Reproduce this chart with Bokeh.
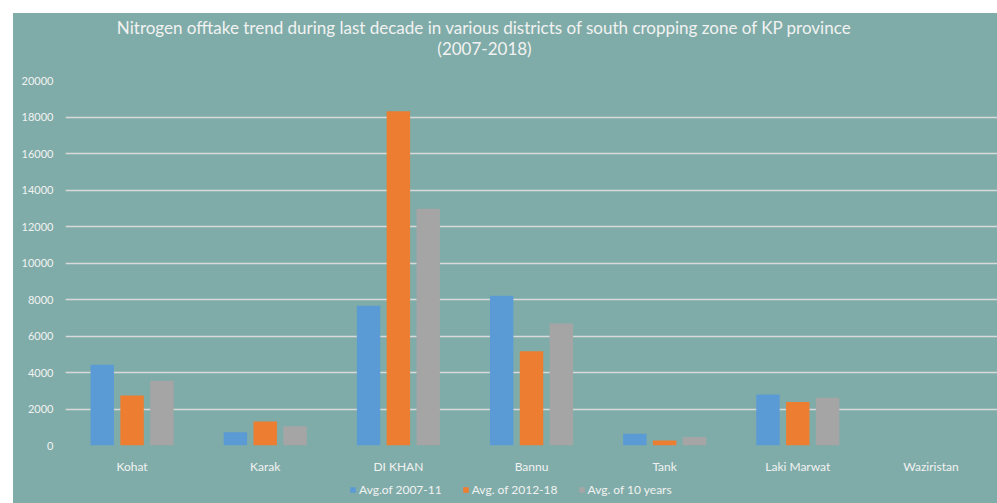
from bokeh.plotting import figure
from bokeh.models import (FactorRange, Range1d, FixedTicker, Legend, LegendItem,
                          Label, Spacer, ColumnDataSource)
from bokeh.transform import dodge
from bokeh.layouts import column, row
from bokeh.embed import file_html
from bokeh.resources import INLINE

districts = ["Kohat", "Karak", "DI KHAN", "Bannu", "Tank", "Laki Marwat", "Waziristan"]
avg_2007_11 = [4420, 725, 7660, 8200, 650, 2790, 0]
avg_2012_18 = [2735, 1320, 18315, 5160, 270, 2390, 0]
avg_10_years = [3550, 1050, 12970, 6680, 470, 2610, 0]
series_names = ["Avg.of 2007-11", "Avg. of 2012-18", "Avg. of 10 years"]
y_ticks = list(range(0, 20001, 2000))
title_lines = ["Nitrogen offtake trend during last decade in various districts of south cropping zone of KP province",
               "(2007-2018)"]

BG = "#7FACA8"
TXT = "#F2F2F2"
FONT = "Lato"
colors = ["#5B9BD5", "#ED7D31", "#A5A5A5"]
W = 984


def strip(h):
    f = figure(width=W, height=h, output_backend="svg", toolbar_location=None,
               x_range=Range1d(0, 1), y_range=Range1d(0, 1),
               x_axis_location=None, y_axis_location=None,
               min_border=0, min_border_left=0, min_border_right=0,
               min_border_top=0, min_border_bottom=0)
    f.xgrid.grid_line_color = None
    f.ygrid.grid_line_color = None
    f.background_fill_color = None
    f.border_fill_color = BG
    f.outline_line_color = None
    return f


# title strip (its frame is aligned with the main chart's frame, which starts 53px in)
pt = strip(59)
for txt, ys in zip(title_lines, [45, 24]):
    pt.add_layout(Label(x=419, y=ys, x_units="screen", y_units="screen", text=txt,
                        text_align="center", text_baseline="middle",
                        text_color=TXT, text_font=FONT, text_font_size="17px"))

# main chart
src = ColumnDataSource(dict(d=districts, a=avg_2007_11, b=avg_2012_18, c=avg_10_years))
p = figure(x_range=FactorRange(*districts, range_padding=0), y_range=Range1d(0, 20000),
           width=W, height=404, output_backend="svg", toolbar_location=None,
           min_border_left=52, min_border_right=0, min_border_top=8, min_border_bottom=28)
p.background_fill_color = None
p.border_fill_color = BG
p.outline_line_color = None

for key, off, col in zip(["a", "b", "c"], [-0.224, 0.0, 0.224], colors):
    p.vbar(x=dodge("d", off, range=p.x_range), top=key, width=0.176, source=src,
           fill_color=col, line_color=None)

p.yaxis.ticker = FixedTicker(ticks=y_ticks)
p.yaxis.axis_line_color = None
p.yaxis.major_tick_line_color = None
p.yaxis.minor_tick_line_color = None
p.yaxis.major_label_text_color = TXT
p.yaxis.major_label_text_font = FONT
p.yaxis.major_label_text_font_size = "11px"
p.yaxis.major_label_standoff = 6

p.xaxis.axis_line_color = None
p.xaxis.major_tick_line_color = None
p.xaxis.minor_tick_line_color = None
p.xaxis.major_label_text_color = TXT
p.xaxis.major_label_text_font = FONT
p.xaxis.major_label_text_font_size = "12px"
p.xaxis.major_label_standoff = 7

p.xgrid.grid_line_color = None
p.ygrid.grid_line_color = "#D9D9D9"
p.ygrid.grid_line_width = 1.3

# legend strip
pl = strip(27)
key_src = ColumnDataSource(dict(x=[0.5], top=[0]))  # zero-height keys, only for legend swatches
leg_r = [pl.vbar(x="x", top="top", width=0.01, source=key_src, fill_color=c, line_color=None)
         for c in colors]
legend = Legend(items=[LegendItem(label=n, renderers=[r]) for n, r in zip(series_names, leg_r)],
                orientation="horizontal", location=(284, 6),
                background_fill_alpha=0, border_line_color=None,
                label_text_color=TXT, label_text_font=FONT, label_text_font_size="12px",
                glyph_width=7, glyph_height=7, label_standoff=3, spacing=20,
                label_height=14, padding=0, margin=0)
pl.add_layout(legend)

inner = column(pt, p, pl, styles={"background-color": BG})
layout = column(Spacer(height=13), row(Spacer(width=13), inner))
open("out.html", "w").write(file_html(layout, INLINE))
